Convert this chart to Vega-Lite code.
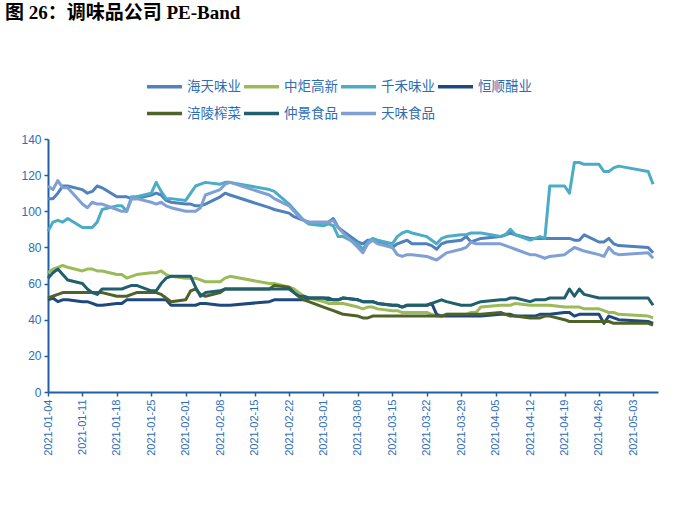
{
  "$schema": "https://vega.github.io/schema/vega-lite/v6.json",
  "width": 610,
  "height": 253,
  "padding": {"left": 5, "top": 3, "right": 5, "bottom": 5},
  "background": "white",
  "title": {
    "text": "图 26：调味品公司 PE-Band",
    "anchor": "start",
    "frame": "group",
    "dx": -43,
    "offset": 44.5,
    "font": "Liberation Serif, Noto Sans CJK SC",
    "fontSize": 19,
    "fontWeight": "bold",
    "color": "#000000"
  },
  "config": {"view": {"stroke": null}, "font": "Liberation Sans"},
  "data": {
    "values": [
      {"date": "2021-01-04", "海天味业": 107, "中炬高新": 66, "千禾味业": 89, "恒顺醋业": 51, "涪陵榨菜": 52, "仲景食品": 63, "天味食品": 114},
      {"date": "2021-01-05", "海天味业": 107, "中炬高新": 68, "千禾味业": 94, "恒顺醋业": 52, "涪陵榨菜": 53, "仲景食品": 66, "天味食品": 112},
      {"date": "2021-01-06", "海天味业": 110, "中炬高新": 69, "千禾味业": 95, "恒顺醋业": 50, "涪陵榨菜": 54, "仲景食品": 68, "天味食品": 117},
      {"date": "2021-01-07", "海天味业": 114, "中炬高新": 70, "千禾味业": 94, "恒顺醋业": 51, "涪陵榨菜": 55, "仲景食品": 65, "天味食品": 113},
      {"date": "2021-01-08", "海天味业": 114, "中炬高新": 69, "千禾味业": 96, "恒顺醋业": 51, "涪陵榨菜": 55, "仲景食品": 62, "天味食品": 113},
      {"date": "2021-01-11", "海天味业": 112, "中炬高新": 67, "千禾味业": 91, "恒顺醋业": 50, "涪陵榨菜": 55, "仲景食品": 60, "天味食品": 104},
      {"date": "2021-01-12", "海天味业": 110, "中炬高新": 68, "千禾味业": 91, "恒顺醋业": 50, "涪陵榨菜": 55, "仲景食品": 57, "天味食品": 102},
      {"date": "2021-01-13", "海天味业": 111, "中炬高新": 68, "千禾味业": 91, "恒顺醋业": 49, "涪陵榨菜": 55, "仲景食品": 55, "天味食品": 105},
      {"date": "2021-01-14", "海天味业": 114, "中炬高新": 67, "千禾味业": 94, "恒顺醋业": 48, "涪陵榨菜": 55, "仲景食品": 54, "天味食品": 104},
      {"date": "2021-01-15", "海天味业": 113, "中炬高新": 67, "千禾味业": 101, "恒顺醋业": 48, "涪陵榨菜": 55, "仲景食品": 57, "天味食品": 104},
      {"date": "2021-01-18", "海天味业": 108, "中炬高新": 65, "千禾味业": 103, "恒顺醋业": 49, "涪陵榨菜": 53, "仲景食品": 57, "天味食品": 101},
      {"date": "2021-01-19", "海天味业": 108, "中炬高新": 65, "千禾味业": 103, "恒顺醋业": 49, "涪陵榨菜": 53, "仲景食品": 57, "天味食品": 100},
      {"date": "2021-01-20", "海天味业": 108, "中炬高新": 63, "千禾味业": 100, "恒顺醋业": 51, "涪陵榨菜": 53, "仲景食品": 58, "天味食品": 100},
      {"date": "2021-01-21", "海天味业": 107, "中炬高新": 64, "千禾味业": 108, "恒顺醋业": 51, "涪陵榨菜": 54, "仲景食品": 59, "天味食品": 107},
      {"date": "2021-01-22", "海天味业": 107, "中炬高新": 65, "千禾味业": 108, "恒顺醋业": 51, "涪陵榨菜": 55, "仲景食品": 59, "天味食品": 107},
      {"date": "2021-01-25", "海天味业": 109, "中炬高新": 66, "千禾味业": 110, "恒顺醋业": 51, "涪陵榨菜": 55, "仲景食品": 56, "天味食品": 105},
      {"date": "2021-01-26", "海天味业": 110, "中炬高新": 66, "千禾味业": 116, "恒顺醋业": 51, "涪陵榨菜": 55, "仲景食品": 56, "天味食品": 104},
      {"date": "2021-01-27", "海天味业": 109, "中炬高新": 67, "千禾味业": 111, "恒顺醋业": 51, "涪陵榨菜": 54, "仲景食品": 60, "天味食品": 105},
      {"date": "2021-01-28", "海天味业": 106, "中炬高新": 65, "千禾味业": 107, "恒顺醋业": 51, "涪陵榨菜": 52, "仲景食品": 63, "天味食品": 103},
      {"date": "2021-01-29", "海天味业": 105, "中炬高新": 64, "千禾味业": 107, "恒顺醋业": 48, "涪陵榨菜": 50, "仲景食品": 64, "天味食品": 102},
      {"date": "2021-02-01", "海天味业": 104, "中炬高新": 63, "千禾味业": 106, "恒顺醋业": 48, "涪陵榨菜": 51, "仲景食品": 64, "天味食品": 100},
      {"date": "2021-02-02", "海天味业": 104, "中炬高新": 63, "千禾味业": 110, "恒顺醋业": 48, "涪陵榨菜": 56, "仲景食品": 64, "天味食品": 100},
      {"date": "2021-02-03", "海天味业": 103, "中炬高新": 63, "千禾味业": 114, "恒顺醋业": 48, "涪陵榨菜": 57, "仲景食品": 58, "天味食品": 100},
      {"date": "2021-02-04", "海天味业": 103, "中炬高新": 62, "千禾味业": 115, "恒顺醋业": 49, "涪陵榨菜": 54, "仲景食品": 53, "天味食品": 102},
      {"date": "2021-02-05", "海天味业": 104, "中炬高新": 61, "千禾味业": 116, "恒顺醋业": 49, "涪陵榨菜": 53, "仲景食品": 55, "天味食品": 109},
      {"date": "2021-02-08", "海天味业": 108, "中炬高新": 61, "千禾味业": 115, "恒顺醋业": 48, "涪陵榨菜": 55, "仲景食品": 56, "天味食品": 112},
      {"date": "2021-02-09", "海天味业": 110, "中炬高新": 63, "千禾味业": 116, "恒顺醋业": 48, "涪陵榨菜": 57, "仲景食品": 57, "天味食品": 115},
      {"date": "2021-02-10", "海天味业": 109, "中炬高新": 64, "千禾味业": 116, "恒顺醋业": 48, "涪陵榨菜": 57, "仲景食品": 57, "天味食品": 116},
      {"date": "2021-02-18", "海天味业": 102, "中炬高新": 60, "千禾味业": 112, "恒顺醋业": 50, "涪陵榨菜": 57, "仲景食品": 57, "天味食品": 109},
      {"date": "2021-02-19", "海天味业": 101, "中炬高新": 60, "千禾味业": 111, "恒顺醋业": 51, "涪陵榨菜": 59, "仲景食品": 57, "天味食品": 107},
      {"date": "2021-02-22", "海天味业": 99, "中炬高新": 58, "千禾味业": 104, "恒顺醋业": 51, "涪陵榨菜": 58, "仲景食品": 57, "天味食品": 103},
      {"date": "2021-02-23", "海天味业": 97, "中炬高新": 57, "千禾味业": 101, "恒顺醋业": 51, "涪陵榨菜": 55, "仲景食品": 55, "天味食品": 100},
      {"date": "2021-02-24", "海天味业": 96, "中炬高新": 55, "千禾味业": 98, "恒顺醋业": 51, "涪陵榨菜": 53, "仲景食品": 53, "天味食品": 97},
      {"date": "2021-02-25", "海天味业": 95, "中炬高新": 53, "千禾味业": 95, "恒顺醋业": 51, "涪陵榨菜": 51, "仲景食品": 53, "天味食品": 95},
      {"date": "2021-02-26", "海天味业": 94, "中炬高新": 52, "千禾味业": 93, "恒顺醋业": 52, "涪陵榨菜": 50, "仲景食品": 52, "天味食品": 94},
      {"date": "2021-03-01", "海天味业": 94, "中炬高新": 50, "千禾味业": 92, "恒顺醋业": 52, "涪陵榨菜": 47, "仲景食品": 52, "天味食品": 94},
      {"date": "2021-03-02", "海天味业": 94, "中炬高新": 49, "千禾味业": 93, "恒顺醋业": 52, "涪陵榨菜": 46, "仲景食品": 51, "天味食品": 94},
      {"date": "2021-03-03", "海天味业": 96, "中炬高新": 49, "千禾味业": 92, "恒顺醋业": 51, "涪陵榨菜": 45, "仲景食品": 51, "天味食品": 95},
      {"date": "2021-03-04", "海天味业": 91, "中炬高新": 49, "千禾味业": 86, "恒顺醋业": 51, "涪陵榨菜": 44, "仲景食品": 51, "天味食品": 91},
      {"date": "2021-03-05", "海天味业": 89, "中炬高新": 49, "千禾味业": 86, "恒顺醋业": 52, "涪陵榨菜": 43, "仲景食品": 52, "天味食品": 88},
      {"date": "2021-03-08", "海天味业": 83, "中炬高新": 47, "千禾味业": 82, "恒顺醋业": 51, "涪陵榨菜": 42, "仲景食品": 51, "天味食品": 80},
      {"date": "2021-03-09", "海天味业": 82, "中炬高新": 46, "千禾味业": 79, "恒顺醋业": 50, "涪陵榨菜": 41, "仲景食品": 50, "天味食品": 77},
      {"date": "2021-03-10", "海天味业": 84, "中炬高新": 47, "千禾味业": 83, "恒顺醋业": 50, "涪陵榨菜": 41, "仲景食品": 50, "天味食品": 82},
      {"date": "2021-03-11", "海天味业": 84, "中炬高新": 47, "千禾味业": 85, "恒顺醋业": 50, "涪陵榨菜": 42, "仲景食品": 50, "天味食品": 84},
      {"date": "2021-03-12", "海天味业": 83, "中炬高新": 46, "千禾味业": 84, "恒顺醋业": 49, "涪陵榨菜": 42, "仲景食品": 49, "天味食品": 82},
      {"date": "2021-03-15", "海天味业": 80, "中炬高新": 45, "千禾味业": 82, "恒顺醋业": 48, "涪陵榨菜": 42, "仲景食品": 48, "天味食品": 80},
      {"date": "2021-03-16", "海天味业": 82, "中炬高新": 45, "千禾味业": 86, "恒顺醋业": 48, "涪陵榨菜": 42, "仲景食品": 48, "天味食品": 76},
      {"date": "2021-03-17", "海天味业": 83, "中炬高新": 44, "千禾味业": 88, "恒顺醋业": 47, "涪陵榨菜": 42, "仲景食品": 47, "天味食品": 75},
      {"date": "2021-03-18", "海天味业": 84, "中炬高新": 44, "千禾味业": 89, "恒顺醋业": 48, "涪陵榨菜": 42, "仲景食品": 48, "天味食品": 76},
      {"date": "2021-03-19", "海天味业": 82, "中炬高新": 44, "千禾味业": 88, "恒顺醋业": 48, "涪陵榨菜": 42, "仲景食品": 48, "天味食品": 76},
      {"date": "2021-03-22", "海天味业": 82, "中炬高新": 44, "千禾味业": 86, "恒顺醋业": 48, "涪陵榨菜": 42, "仲景食品": 48, "天味食品": 75},
      {"date": "2021-03-23", "海天味业": 81, "中炬高新": 43, "千禾味业": 84, "恒顺醋业": 49, "涪陵榨菜": 42, "仲景食品": 49, "天味食品": 74},
      {"date": "2021-03-24", "海天味业": 79, "中炬高新": 42, "千禾味业": 82, "恒顺醋业": 43, "涪陵榨菜": 42, "仲景食品": 50, "天味食品": 73},
      {"date": "2021-03-25", "海天味业": 82, "中炬高新": 42, "千禾味业": 85, "恒顺醋业": 42, "涪陵榨菜": 42, "仲景食品": 51, "天味食品": 75},
      {"date": "2021-03-26", "海天味业": 83, "中炬高新": 43, "千禾味业": 86, "恒顺醋业": 42, "涪陵榨菜": 43, "仲景食品": 50, "天味食品": 77},
      {"date": "2021-03-29", "海天味业": 84, "中炬高新": 43, "千禾味业": 87, "恒顺醋业": 42, "涪陵榨菜": 43, "仲景食品": 48, "天味食品": 79},
      {"date": "2021-03-30", "海天味业": 86, "中炬高新": 43, "千禾味业": 87, "恒顺醋业": 42, "涪陵榨菜": 43, "仲景食品": 48, "天味食品": 80},
      {"date": "2021-03-31", "海天味业": 83, "中炬高新": 44, "千禾味业": 88, "恒顺醋业": 42, "涪陵榨菜": 43, "仲景食品": 48, "天味食品": 83},
      {"date": "2021-04-01", "海天味业": 84, "中炬高新": 44, "千禾味业": 88, "恒顺醋业": 42, "涪陵榨菜": 43, "仲景食品": 49, "天味食品": 82},
      {"date": "2021-04-02", "海天味业": 85, "中炬高新": 47, "千禾味业": 88, "恒顺醋业": 42, "涪陵榨菜": 43, "仲景食品": 50, "天味食品": 82},
      {"date": "2021-04-06", "海天味业": 86, "中炬高新": 48, "千禾味业": 86, "恒顺醋业": 43, "涪陵榨菜": 44, "仲景食品": 51, "天味食品": 82},
      {"date": "2021-04-07", "海天味业": 87, "中炬高新": 48, "千禾味业": 87, "恒顺醋业": 43, "涪陵榨菜": 43, "仲景食品": 51, "天味食品": 81},
      {"date": "2021-04-08", "海天味业": 88, "中炬高新": 48, "千禾味业": 90, "恒顺醋业": 43, "涪陵榨菜": 42, "仲景食品": 52, "天味食品": 80},
      {"date": "2021-04-09", "海天味业": 87, "中炬高新": 49, "千禾味业": 87, "恒顺醋业": 42, "涪陵榨菜": 42, "仲景食品": 52, "天味食品": 79},
      {"date": "2021-04-12", "海天味业": 85, "中炬高新": 48, "千禾味业": 84, "恒顺醋业": 42, "涪陵榨菜": 41, "仲景食品": 50, "天味食品": 76},
      {"date": "2021-04-13", "海天味业": 85, "中炬高新": 48, "千禾味业": 85, "恒顺醋业": 42, "涪陵榨菜": 41, "仲景食品": 51, "天味食品": 76},
      {"date": "2021-04-14", "海天味业": 85, "中炬高新": 48, "千禾味业": 86, "恒顺醋业": 43, "涪陵榨菜": 41, "仲景食品": 51, "天味食品": 75},
      {"date": "2021-04-15", "海天味业": 85, "中炬高新": 48, "千禾味业": 85, "恒顺醋业": 43, "涪陵榨菜": 42, "仲景食品": 51, "天味食品": 74},
      {"date": "2021-04-16", "海天味业": 85, "中炬高新": 48, "千禾味业": 114, "恒顺醋业": 43, "涪陵榨菜": 42, "仲景食品": 52, "天味食品": 75},
      {"date": "2021-04-19", "海天味业": 85, "中炬高新": 47, "千禾味业": 114, "恒顺醋业": 44, "涪陵榨菜": 40, "仲景食品": 52, "天味食品": 76},
      {"date": "2021-04-20", "海天味业": 85, "中炬高新": 47, "千禾味业": 110, "恒顺醋业": 44, "涪陵榨菜": 39, "仲景食品": 57, "天味食品": 78},
      {"date": "2021-04-21", "海天味业": 84, "中炬高新": 47, "千禾味业": 127, "恒顺醋业": 42, "涪陵榨菜": 39, "仲景食品": 53, "天味食品": 80},
      {"date": "2021-04-22", "海天味业": 84, "中炬高新": 47, "千禾味业": 127, "恒顺醋业": 43, "涪陵榨菜": 39, "仲景食品": 57, "天味食品": 79},
      {"date": "2021-04-23", "海天味业": 87, "中炬高新": 46, "千禾味业": 126, "恒顺醋业": 43, "涪陵榨菜": 39, "仲景食品": 54, "天味食品": 78},
      {"date": "2021-04-26", "海天味业": 83, "中炬高新": 46, "千禾味业": 126, "恒顺醋业": 43, "涪陵榨菜": 39, "仲景食品": 52, "天味食品": 76},
      {"date": "2021-04-27", "海天味业": 83, "中炬高新": 45, "千禾味业": 122, "恒顺醋业": 38, "涪陵榨菜": 39, "仲景食品": 52, "天味食品": 75},
      {"date": "2021-04-28", "海天味业": 85, "中炬高新": 44, "千禾味业": 122, "恒顺醋业": 42, "涪陵榨菜": 39, "仲景食品": 52, "天味食品": 80},
      {"date": "2021-04-29", "海天味业": 82, "中炬高新": 44, "千禾味业": 124, "恒顺醋业": 41, "涪陵榨菜": 38, "仲景食品": 52, "天味食品": 77},
      {"date": "2021-04-30", "海天味业": 81, "中炬高新": 43, "千禾味业": 125, "恒顺醋业": 40, "涪陵榨菜": 38, "仲景食品": 52, "天味食品": 76},
      {"date": "2021-05-06", "海天味业": 80, "中炬高新": 42, "千禾味业": 122, "恒顺醋业": 39, "涪陵榨菜": 38, "仲景食品": 52, "天味食品": 77},
      {"date": "2021-05-07", "海天味业": 77, "中炬高新": 41, "千禾味业": 115, "恒顺醋业": 38, "涪陵榨菜": 37, "仲景食品": 48, "天味食品": 74}
    ]
  },
  "transform": [
    {"fold": ["海天味业", "中炬高新", "千禾味业", "恒顺醋业", "涪陵榨菜", "仲景食品", "天味食品"], "as": ["company", "pe"]}
  ],
  "mark": {"type": "line", "strokeWidth": 3, "interpolate": "linear", "strokeJoin": "round"},
  "encoding": {
    "x": {
      "field": "date",
      "type": "temporal",
      "scale": {"type": "utc", "domain": [{"year": 2021, "month": 1, "date": 4, "utc": true}, {"year": 2021, "month": 5, "date": 8, "utc": true}]},
      "axis": {
        "title": null,
        "grid": false,
        "format": "%Y-%m-%d",
        "values": [
          {"year": 2021, "month": 1, "date": 4, "utc": true},
          {"year": 2021, "month": 1, "date": 11, "utc": true},
          {"year": 2021, "month": 1, "date": 18, "utc": true},
          {"year": 2021, "month": 1, "date": 25, "utc": true},
          {"year": 2021, "month": 2, "date": 1, "utc": true},
          {"year": 2021, "month": 2, "date": 8, "utc": true},
          {"year": 2021, "month": 2, "date": 15, "utc": true},
          {"year": 2021, "month": 2, "date": 22, "utc": true},
          {"year": 2021, "month": 3, "date": 1, "utc": true},
          {"year": 2021, "month": 3, "date": 8, "utc": true},
          {"year": 2021, "month": 3, "date": 15, "utc": true},
          {"year": 2021, "month": 3, "date": 22, "utc": true},
          {"year": 2021, "month": 3, "date": 29, "utc": true},
          {"year": 2021, "month": 4, "date": 5, "utc": true},
          {"year": 2021, "month": 4, "date": 12, "utc": true},
          {"year": 2021, "month": 4, "date": 19, "utc": true},
          {"year": 2021, "month": 4, "date": 26, "utc": true},
          {"year": 2021, "month": 5, "date": 3, "utc": true}
        ],
        "labelAngle": -90,
        "labelFontSize": 11,
        "labelColor": "#2E6DB4",
        "labelPadding": 3,
        "labelOverlap": false,
        "domainColor": "#1F5FA8",
        "domainWidth": 2,
        "tickColor": "#1F5FA8",
        "tickSize": 4,
        "tickWidth": 1.5
      }
    },
    "y": {
      "field": "pe",
      "type": "quantitative",
      "scale": {"domain": [0, 140], "nice": false},
      "axis": {
        "title": null,
        "grid": false,
        "values": [0, 20, 40, 60, 80, 100, 120, 140],
        "labelFontSize": 12,
        "labelColor": "#2E6DB4",
        "labelPadding": 3,
        "domainColor": "#1F5FA8",
        "domainWidth": 2,
        "tickColor": "#1F5FA8",
        "tickSize": 4,
        "tickWidth": 1.5
      }
    },
    "color": {
      "field": "company",
      "type": "nominal",
      "scale": {
        "domain": ["海天味业", "中炬高新", "千禾味业", "恒顺醋业", "涪陵榨菜", "仲景食品", "天味食品"],
        "range": ["#4F81BD", "#9BBB59", "#4BACC6", "#1F497D", "#4F6228", "#215F6E", "#7F9FD5"]
      },
      "legend": {
        "title": null,
        "orient": "none",
        "legendX": 97,
        "legendY": -72,
        "direction": "horizontal",
        "columns": 4,
        "symbolType": "stroke",
        "symbolSize": 1225,
        "symbolStrokeWidth": 3.5,
        "labelFont": "Noto Sans CJK SC",
        "labelFontSize": 13.5,
        "labelColor": "#2E6DB4",
        "labelOffset": 3,
        "columnPadding": -4,
        "rowPadding": -11
      }
    }
  }
}
